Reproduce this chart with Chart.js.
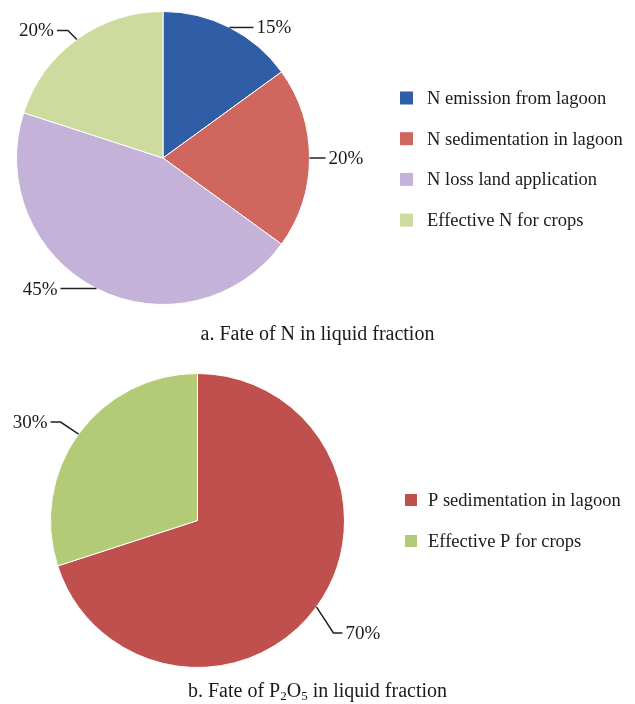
<!DOCTYPE html>
<html>
<head>
<meta charset="utf-8">
<script src="https://cdn.jsdelivr.net/npm/chart.js@4.4.0/dist/chart.umd.min.js"></script>
<style>
body { margin: 0; background: #fff; }
#wrap { position: relative; width: 635px; height: 704px; font-family: "Liberation Serif", "Times New Roman", serif; color: #1a1a1a; }
canvas { position: absolute; left: 0; }
#chart-n { top: 0; }
#chart-p { top: 350px; }
.caption { position: absolute; left: 0; width: 635px; text-align: center; font-size: 20px; line-height: 22px; }
.caption sub { font-size: 13px; vertical-align: -3px; line-height: 0; }
</style>
</head>
<body>
<div id="wrap">
    <canvas id="chart-n" width="635" height="330"></canvas>
    <div class="caption" style="top:322px">a. Fate of N in liquid fraction</div>
    <canvas id="chart-p" width="635" height="340"></canvas>
    <div class="caption" style="top:679px">b. Fate of P<sub>2</sub>O<sub>5</sub> in liquid fraction</div>
</div>
<script>
const nLabels = ['N emission from lagoon', 'N sedimentation in lagoon', 'N loss land application', 'Effective N for crops'];
const nValues = [15, 20, 45, 20];
const nColors = ['#2F5DA6', '#D0675F', '#C4B2D9', '#CDDC9E'];

const pLabels = ['P sedimentation in lagoon', 'Effective P for crops'];
const pValues = [70, 30];
const pColors = ['#C0504D', '#B3CB77'];

// leader line + percent label next to each slice
const leaderLabels = {
    id: 'leaderLabels',
    afterDatasetsDraw(chart, args, opts) {
        const ctx = chart.ctx;
        const meta = chart.getDatasetMeta(0);
        const data = chart.data.datasets[0].data;
        const total = data.reduce((a, b) => a + b, 0);
        ctx.save();
        ctx.strokeStyle = '#222';
        ctx.lineWidth = 1.5;
        ctx.fillStyle = '#1a1a1a';
        ctx.font = opts.font;
        ctx.textBaseline = 'middle';
        meta.data.forEach((arc, i) => {
            const p = arc.getProps(['x', 'y', 'startAngle', 'endAngle', 'outerRadius'], true);
            const mid = (p.startAngle + p.endAngle) / 2;
            const x0 = p.x + Math.cos(mid) * p.outerRadius;
            const y0 = p.y + Math.sin(mid) * p.outerRadius;
            const l = opts.leaders[i];
            const x1 = x0 + l.dx, y1 = y0 + l.dy;
            const x2 = x1 + l.len;
            ctx.beginPath();
            ctx.moveTo(x0, y0);
            ctx.lineTo(x1, y1);
            ctx.lineTo(x2, y1);
            ctx.stroke();
            const txt = Math.round(data[i] / total * 100) + '%';
            ctx.textAlign = l.len >= 0 ? 'left' : 'right';
            ctx.fillText(txt, x2 + (l.len >= 0 ? 3 : -3), y1 + 1);
        });
        ctx.restore();
    }
};

// square-marker legend on the right
const sideLegend = {
    id: 'sideLegend',
    afterDraw(chart, args, opts) {
        const ctx = chart.ctx;
        const colors = chart.data.datasets[0].backgroundColor;
        ctx.save();
        ctx.font = opts.font;
        ctx.textBaseline = 'middle';
        ctx.textAlign = 'left';
        chart.data.labels.forEach((lab, i) => {
            const y = opts.y + i * opts.gap;
            ctx.fillStyle = colors[i];
            ctx.fillRect(opts.x, y - opts.box / 2, opts.box, opts.box);
            ctx.fillStyle = '#1a1a1a';
            ctx.fillText(lab, opts.textX, y + 1);
        });
        ctx.restore();
    }
};

function makePie(id, labels, values, colors, padding, leaders, legend) {
    return new Chart(document.getElementById(id), {
        type: 'pie',
        data: {
            labels: labels,
            datasets: [{ data: values, backgroundColor: colors, borderColor: '#fff', borderWidth: 1 }]
        },
        options: {
            responsive: false, animation: false,
            layout: { padding: padding },
            plugins: {
                legend: { display: false }, tooltip: { enabled: false },
                leaderLabels: { font: '19px "Liberation Serif", "Times New Roman", serif', leaders: leaders },
                sideLegend: Object.assign({ font: '18.5px "Liberation Serif", "Times New Roman", serif' }, legend)
            }
        },
        plugins: [leaderLabels, sideLegend]
    });
}

makePie('chart-n', nLabels, nValues, nColors,
    { left: 16, top: 11, right: 325, bottom: 25 },
    [{ dx: 0, dy: 0, len: 24 }, { dx: 0, dy: 0, len: 16 }, { dx: 0, dy: 0, len: -36 }, { dx: -9, dy: -9, len: -11 }],
    { x: 400, box: 13, textX: 427, y: 98, gap: 40.7 });

makePie('chart-p', pLabels, pValues, pColors,
    { left: 50, top: 23, right: 290, bottom: 22 },
    [{ dx: 17, dy: 26, len: 9 }, { dx: -18, dy: -12, len: -10 }],
    { x: 405, box: 12, textX: 428, y: 150, gap: 41 });
</script>
</body>
</html>
